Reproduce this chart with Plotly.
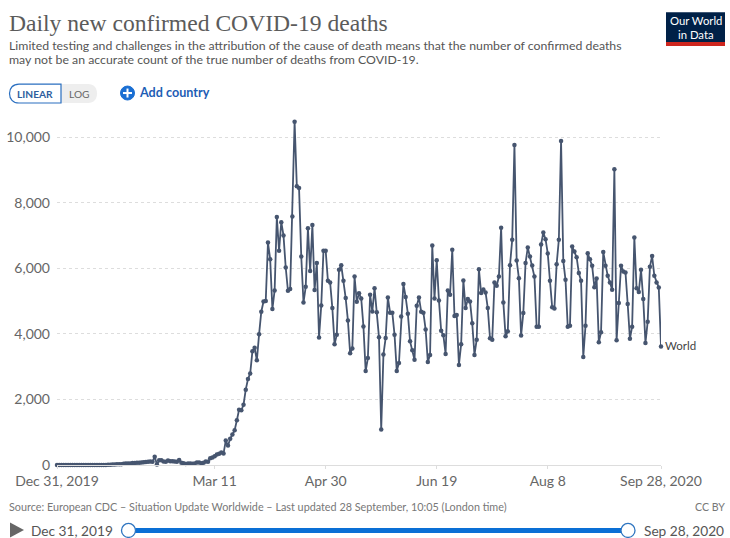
import pandas as pd
import plotly.graph_objects as go

START_DATE = "2019-12-31"
SERIES_NAME = "World"
world_early = [0,0,0,0,0,0,0,0,0,0,0,1,0,0,0,0,0,1,0,0,1,3,0,11,9,15,15,25,26,26,38,43,46,45,58,64,66,72,73,86,89,97,108,97,254,13,143,142,105,98,136,116,118,109,97,150,71,52,29,44,47,35,42,73,73,55,65,105,100]
world_rise = [207,230,268,320,345,380,350,747,595,800,930,1060,1365,1690,1670,1840,2300,2625,2790,3470,3580,3195,3990,4680,4990,5010,6790,6285,4760,5330,7570,6540,7415,7010,6030,5320,5370,7590]
world_mid = [10480,8510,8460,6365,4960,5440,7230,5920,7330,5340,6165,3890,4870,6540,6540,5625,5575,4790,3685,3980,5960,6100,5625,5095,4415,3410,3560,5755,4985,5240,5085,4230,2870,3265,5200,4690,5400,4660,3900,1085,3370,3880,5115,4650,4650,3980,2870,3115,4535,5525,5130,4620,3775,3500,3215,4860,5115,4680,4650,4140,3145,3360,6700,5085,6255,5025,4100,3960,3390,5330,5200,6570,4550,4580,3055,3685,5635,4790,5065]
world_late = [4995,4325,3360,3825,5980,5250,5360,5270,4790,3870,3825,5575,5470,5755,7240,4965,3930,4080,6100,6880,9770,6245,5705,3950,4640,6165,6640,6365,6090,5755,4220,4220,6730,7100,6895,6460,5625,4815,4780,6130,6880,9890,6225,5655,4220,4250,6670,6520,6345,5860,5625,3300,4250,6465,6285,6080,5430,5695,3745,4050,6500,6080,5775,5575,5350,9030,3805,4945,6080,5910,5880,4915,3855,4220,6945,5400,5280,5960,5065,3725,4375,6050,6380,5775,5575,5420,3620]
world = world_early + world_rise + world_mid + world_late
dates = pd.date_range(START_DATE, periods=len(world))

x_tick_dates = ["2019-12-31", "2020-03-11", "2020-04-30", "2020-06-19", "2020-08-08", "2020-09-28"]
x_tick_labels = ["Dec 31, 2019", "Mar 11", "Apr 30", "Jun 19", "Aug 8", "Sep 28, 2020"]
y_tick_values = [0, 2000, 4000, 6000, 8000, 10000]
y_tick_labels = ["0", "2,000", "4,000", "6,000", "8,000", "10,000"]

W, H = 730, 538
L, R, T, B = 57, 661, 115, 465.5
LINE = "#46556f"

def px(v): return (v - L) / (R - L)
def py(v): return (B - v) / (B - T)

shapes, annos = [], []

def text(x, y, s, size, color, anchor="left", family="Lato", weight=None):
    f = dict(family=family, size=size, color=color)
    if weight: f["weight"] = weight
    annos.append(dict(xref="paper", yref="paper", x=px(x), y=py(y), text=s, showarrow=False,
                      xanchor=anchor, yanchor="middle", font=f, borderpad=0, borderwidth=0,
                      align=anchor))

def path(d, fill=None, line=None, lw=1):
    shapes.append(dict(type="path", xref="paper", yref="paper", path=d, fillcolor=fill,
                       line=dict(color=line, width=lw if line else 0), layer="above"))

def P(x, y): return f"{px(x):.5f},{py(y):.5f}"

def rect(x0, y0, x1, y1, fill):
    shapes.append(dict(type="rect", xref="paper", yref="paper", x0=px(x0), x1=px(x1), y0=py(y0), y1=py(y1),
                       fillcolor=fill, line=dict(width=0), layer="above"))

def circle(cx, cy, r, fill, line, lw):
    shapes.append(dict(type="circle", xref="paper", yref="paper", x0=px(cx-r), x1=px(cx+r), y0=py(cy-r), y1=py(cy+r),
                       fillcolor=fill, line=dict(color=line, width=lw), layer="above"))

# Title block
text(9, 23, "Daily new confirmed COVID-19 deaths", 23.6, "#5b5b5b", family="Liberation Serif")
text(9, 45.5, "Limited testing and challenges in the attribution of the cause of death means that the number of confirmed deaths", 12.3, "#555555")
text(9, 59.5, "may not be an accurate count of the true number of deaths from COVID-19.", 12.3, "#555555")

# Logo
rect(666, 12, 725, 46, "#002147")
rect(666, 42, 725, 46, "#ce261e")
text(695.5, 20.5, "Our World", 11.3, "#ffffff", "center")
text(695.5, 34.5, "in Data", 11.3, "#ffffff", "center")

# Linear / log toggle
path(f"M{P(61,84)} L{P(88,84)} C{P(94,84)} {P(97,88)} {P(97,93.5)} C{P(97,99)} {P(94,103)} {P(88,103)} L{P(61,103)} Z", fill="#eeeeee")
path(f"M{P(61,84)} L{P(19,84)} C{P(13,84)} {P(9.5,88)} {P(9.5,93.5)} C{P(9.5,99)} {P(13,103)} {P(19,103)} L{P(61,103)} Z", fill="#ffffff", line="#2a6fc0", lw=1.2)
text(35, 94.3, "LINEAR", 10.2, "#2f5f9e", "center", weight=700)
text(79, 94.3, "LOG", 10.2, "#666666", "center")

# Add country
circle(127.5, 93, 7, "#1a6fd3", "#1a6fd3", 1)
shapes.append(dict(type="line", xref="paper", yref="paper", x0=px(123), x1=px(132), y0=py(93), y1=py(93), line=dict(color="#ffffff", width=2), layer="above"))
shapes.append(dict(type="line", xref="paper", yref="paper", x0=px(127.5), x1=px(127.5), y0=py(88.5), y1=py(97.5), line=dict(color="#ffffff", width=2), layer="above"))
text(139, 92.5, "Add country", 12.6, "#1d5db5", weight=700)

# Footer
text(9, 507.5, "Source: European CDC – Situation Update Worldwide – Last updated 28 September, 10:05 (London time)", 10.8, "#777777")
text(725, 507.5, "CC BY", 10.6, "#777777", "right")

# Timeline
path(f"M{P(10,523)} L{P(24,530.5)} L{P(10,538)} Z", fill="#666666")
text(31, 531, "Dec 31, 2019", 13.7, "#555555")
text(644, 531, "Sep 28, 2020", 13.7, "#555555")
rect(128, 528.5, 628, 533.5, "#0a6fd5")
circle(128.5, 531, 7, "#ffffff", "#2f75c0", 1.3)
circle(628, 531, 7, "#ffffff", "#2f75c0", 1.3)

# Series label
annos.append(dict(x=dates[-1], y=world[-1], xref="x", yref="y", text=SERIES_NAME, showarrow=False,
                  xanchor="left", yanchor="middle", xshift=1.5, yshift=1,
                  font=dict(family="Lato", size=11.5, color="#444444")))

fig = go.Figure(go.Scatter(x=dates, y=world, mode="lines+markers", name=SERIES_NAME,
                           line=dict(color=LINE, width=1.8), marker=dict(color=LINE, size=4.5),
                           cliponaxis=False, showlegend=False))
fig.update_layout(
    width=W, height=H, margin=dict(l=L, r=W-R, t=T, b=H-B, pad=0, autoexpand=False),
    paper_bgcolor="#ffffff", plot_bgcolor="#ffffff", showlegend=False,
    shapes=shapes, annotations=annos,
    font=dict(family="Lato", color="#666666"),
    xaxis=dict(type="date", range=[dates[0], dates[-1]], tickmode="array", tickvals=x_tick_dates,
               ticktext=x_tick_labels, showgrid=False, zeroline=False, showline=True, linecolor="#dddddd",
               linewidth=1, ticks="outside", ticklen=3, tickcolor="#dddddd",
               tickfont=dict(family="Lato", size=14, color="#666666")),
    yaxis=dict(range=[0, (B-T)/0.0328], tickmode="array", tickvals=y_tick_values, ticktext=y_tick_labels,
               showgrid=True, gridcolor="#dddddd", griddash="3px,3px", gridwidth=1, zeroline=False, showline=False,
               ticks="", ticklabelstandoff=6, tickfont=dict(family="Lato", size=14, color="#666666")),
)
fig.write_html("out.html", config=dict(displayModeBar=False),
               post_script="document.body.style.margin='0';document.documentElement.style.overflow='hidden';")
